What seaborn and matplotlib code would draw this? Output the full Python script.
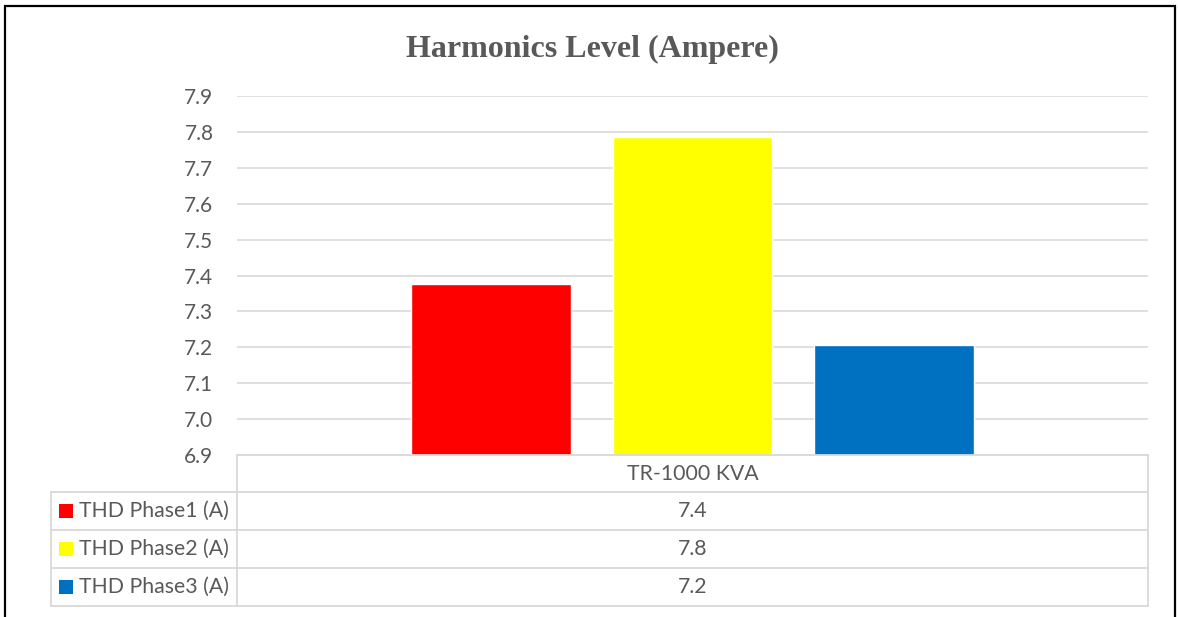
import numpy as np
import pandas as pd
import matplotlib
matplotlib.use("Agg")
import matplotlib.pyplot as plt
from matplotlib.lines import Line2D
from matplotlib.patches import Rectangle
import seaborn as sns

# ---- data ----
title = "Harmonics Level (Ampere)"
category = "TR-1000 KVA"
series = ["THD Phase1 (A)", "THD Phase2 (A)", "THD Phase3 (A)"]
values = [7.376, 7.787, 7.206]
colors = ["#FF0000", "#FFFF00", "#0070C0"]
yticks = [6.9, 7.0, 7.1, 7.2, 7.3, 7.4, 7.5, 7.6, 7.7, 7.8, 7.9]

sns.set_style("white")
plt.rcParams["font.family"] = ["Lato", "DejaVu Sans"]

W, H = 1178, 617
fig = plt.figure(figsize=(W / 100, H / 100), dpi=100)
fig.patch.set_facecolor("white")

def fx(px):
    return px / W

def fy(py):
    return 1 - py / H

# plot area in pixels
L, R, T, B = 237, 1148, 96, 455
ax = fig.add_axes([fx(L), fy(B), fx(R - L), (B - T) / H])

df = pd.DataFrame({"cat": [category] * len(series), "series": series, "value": values})
sns.barplot(data=df, x="cat", y="value", hue="series", palette=colors,
            hue_order=series, width=0.665, gap=0.208, saturation=1,
            legend=False, ax=ax, zorder=3)

ax.set_xlim(-0.5, 0.5)
ax.set_ylim(yticks[0], yticks[-1])
ax.set_yticks(yticks)
ax.set_yticklabels([f"{t:.1f}" for t in yticks])
ax.set_xticks([])
ax.set_xlabel("")
ax.set_ylabel("")
for s in ax.spines.values():
    s.set_visible(False)
ax.tick_params(axis="y", length=0, pad=17, labelsize=15, labelcolor="#595959")
ax.yaxis.grid(True, color="#D9D9D9", linewidth=1.2, zorder=0)
ax.set_axisbelow(True)

# title
fig.text(fx(592), fy(49), title, ha="center", va="center", fontsize=23,
         fontweight="bold", color="#595959", family=["Liberation Serif", "DejaVu Serif"])

# data table
lc = "#D9D9D9"
lw = 1.3
def hline(x0, x1, y):
    fig.add_artist(Line2D([fx(x0), fx(x1)], [fy(y), fy(y)], color=lc, lw=lw))
def vline(x, y0, y1):
    fig.add_artist(Line2D([fx(x), fx(x)], [fy(y0), fy(y1)], color=lc, lw=lw))

tab_left = 51
row_y = [455, 492, 530, 568, 606]
hline(L, R, row_y[0])
for y in row_y[1:]:
    hline(tab_left, R, y)
vline(L, row_y[0], row_y[-1])
vline(R, row_y[0], row_y[-1])
vline(tab_left, row_y[1], row_y[-1])

fs = 15.3
cx = (L + R) / 2
fig.text(fx(cx), fy((row_y[0] + row_y[1]) / 2), category, ha="center", va="center",
         fontsize=fs, color="#595959")
for i, (name, val, col) in enumerate(zip(series, values, colors)):
    yc = (row_y[i + 1] + row_y[i + 2]) / 2
    fig.text(fx(cx), fy(yc), f"{val:.1f}", ha="center", va="center",
             fontsize=fs, color="#595959")
    fig.add_artist(Rectangle((fx(59), fy(yc + 7)), fx(14), 14 / H,
                             facecolor=col, edgecolor="none"))
    fig.text(fx(79), fy(yc), name, ha="left", va="center",
             fontsize=fs, color="#595959")

# outer chart border (bottom edge cut off)
fig.add_artist(Rectangle((fx(5), fy(640)), fx(1175 - 5), (640 - 6) / H,
                         facecolor="none", edgecolor="black", lw=1.6))

fig.savefig("out.png", dpi=100)
